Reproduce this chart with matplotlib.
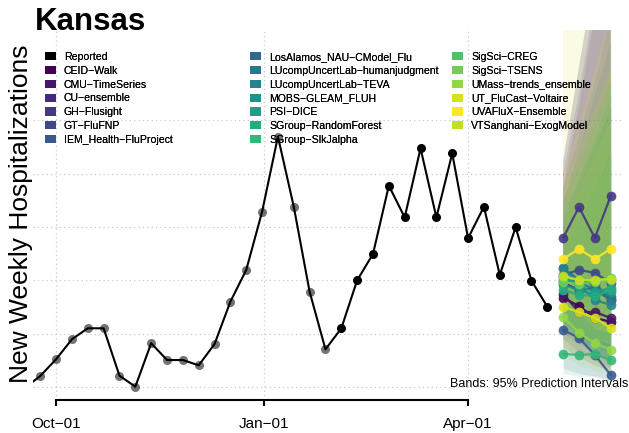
import matplotlib
matplotlib.use("Agg")
import matplotlib.pyplot as plt
import matplotlib.dates as mdates
from matplotlib.patches import Patch
import numpy as np
import pandas as pd

plt.rcParams['font.family'] = ['Liberation Sans', 'DejaVu Sans']

# reported weekly hospitalizations (Kansas), weekly from 2022-09-17
reported = [19.5, 24.1, 30.4, 37.9, 42.0, 42.0, 24.2, 20.1, 36.4, 30.1, 30.1, 28.1,
            36.1, 52.0, 63.9, 85.7, 113.9, 87.6, 55.7, 34.1, 42.0, 60.0, 69.9, 95.5,
            83.6, 109.5, 83.6, 107.6, 75.8, 87.6, 62.0, 79.9, 59.9, 50.1]
report_start = "2022-09-17"
n_gray = 20  # older points shown faded

forecast_dates = ["2023-05-13", "2023-05-20", "2023-05-27", "2023-06-03"]

models = ["CEID-Walk", "CMU-TimeSeries", "CU-ensemble", "GH-Flusight", "GT-FluFNP",
          "IEM_Health-FluProject", "LosAlamos_NAU-CModel_Flu",
          "LUcompUncertLab-humanjudgment", "LUcompUncertLab-TEVA", "MOBS-GLEAM_FLUH",
          "PSI-DICE", "SGroup-RandomForest", "SGroup-SlkJalpha", "SigSci-CREG",
          "SigSci-TSENS", "UMass-trends_ensemble", "UT_FluCast-Voltaire",
          "UVAFluX-Ensemble", "VTSanghani-ExogModel"]

median = [
    [53.4, 50.4, 45.9, 44.4],
    [54.9, 48.1, 48.1, 45.9],
    [59.0, 56.4, 57.1, 52.6],
    [75.9, 87.5, 75.9, 91.6],
    [62.0, 63.9, 62.8, 59.0],
    [41.4, 38.4, 32.0, 24.5],
    [64.6, 60.1, 58.3, 53.8],
    [60.1, 59.4, 56.4, 52.6],
    [64.6, 58.3, 52.6, 50.8],
    [58.3, 56.4, 54.5, 55.6],
    [61.3, 57.9, 55.6, 57.1],
    [56.4, 54.5, 54.1, 56.4],
    [32.4, 32.0, 32.4, 30.1],
    [61.3, 60.1, 59.8, 60.9],
    [59.4, 58.6, 59.4, 60.1],
    [46.3, 40.3, 36.5, 33.9],
    [50.0, 48.1, 45.9, 42.1],
    [68.0, 71.8, 68.0, 71.8],
    [61.6, 60.1, 60.1, 60.5],
]

lower95 = [
    [35, 31, 28, 26], [38, 33, 30, 27], [40, 36, 33, 30], [52, 55, 45, 50],
    [45, 42, 38, 34], [27, 25, 24, 22], [45, 38, 33, 29], [44, 40, 36, 32],
    [46, 38, 32, 28], [42, 37, 33, 30], [44, 38, 34, 31], [42, 38, 35, 33],
    [25, 24, 24, 23], [45, 41, 38, 36], [43, 40, 38, 36], [32, 28, 26, 25],
    [35, 31, 28, 26], [50, 48, 42, 40], [45, 41, 38, 36],
]

upper95 = [
    [100, 130, 165, 200], [95, 125, 160, 195], [105, 140, 175, 210], [105, 140, 175, 210],
    [80, 95, 110, 125], [70, 82, 95, 108], [90, 110, 130, 150], [85, 98, 112, 125],
    [95, 115, 135, 160], [82, 98, 114, 130], [90, 105, 120, 135], [75, 88, 100, 110],
    [70, 82, 95, 105], [85, 100, 115, 130], [90, 105, 120, 135], [80, 95, 108, 120],
    [160, 180, 200, 220], [100, 120, 140, 160], [95, 110, 125, 140],
]

colors = [plt.cm.viridis(v) for v in np.linspace(0, 1, 19)]
colors[17] = "#fde725"
colors[16] = "#d8e219"
colors[18] = "#c2df23"

dates = pd.date_range(report_start, periods=len(reported), freq="7D")
fdates = pd.to_datetime(forecast_dates)

fig = plt.figure(figsize=(6.29, 4.33), dpi=100)
ax = fig.add_axes([33 / 629, 33 / 433, 589 / 629, 370 / 433])

# grid
for gy in [20, 40, 60, 80, 100, 120]:
    ax.axhline(gy, color="#c8c8c8", lw=0.9, ls=(0, (1, 2.5)), zorder=0)
xt = pd.to_datetime(["2022-10-01", "2023-01-01", "2023-04-01"])
for gx in xt:
    ax.axvline(gx, color="#c8c8c8", lw=0.9, ls=(0, (1, 2.5)), zorder=0)

# prediction bands
for i in range(len(models)):
    ax.fill_between(fdates, lower95[i], upper95[i], color=colors[i], alpha=0.12,
                    lw=0, zorder=1)

# reported
ax.plot(dates, reported, color="black", lw=1.5, zorder=3)
ax.plot(dates[:n_gray], reported[:n_gray], "o", color="black", alpha=0.55,
        ms=6.5, mec="none", zorder=4)
ax.plot(dates[n_gray:], reported[n_gray:], "o", color="black", ms=6.5,
        mec="none", zorder=4)

# forecast medians
for i in range(len(models)):
    ax.plot(fdates, median[i], "-o", color=colors[i], lw=1.6, ms=7, mec="none",
            alpha=0.9, zorder=5)

ax.set_xlim(mdates.date2num(pd.Timestamp("2022-09-20 19:00")),
            mdates.date2num(pd.Timestamp("2023-06-08")))
ax.set_ylim(15.1, 153.9)

ax.set_xticks(xt)
ax.set_xticklabels(["Oct\u221201", "Jan\u221201", "Apr\u221201"], fontsize=11)
ax.set_yticks([])
ax.tick_params(axis="x", length=4, width=1.5, pad=8, direction="out")
for s in ["top", "right", "left"]:
    ax.spines[s].set_visible(False)
ax.spines["bottom"].set_linewidth(1.5)
ax.spines["bottom"].set_bounds(mdates.date2num(xt[0]), mdates.date2num(xt[-1]))

# legend, three fixed-width columns
labels = ["Reported"] + models
lcolors = ["black"] + colors
col_x = [45, 250, 452]
rows = [labels[0:7], labels[7:14], labels[14:20]]
crows = [lcolors[0:7], lcolors[7:14], lcolors[14:20]]
for c in range(3):
    handles = [Patch(facecolor=col, edgecolor="none") for col in crows[c]]
    txt = [t.replace("-", "\u2212") for t in rows[c]]
    leg = fig.legend(handles, txt, loc="upper left",
                     bbox_to_anchor=(col_x[c] / 629, 1 - 52 / 433),
                     frameon=False, fontsize=7.6, handlelength=1.0, handleheight=0.8,
                     handletextpad=0.8, labelspacing=0.36, borderpad=0,
                     borderaxespad=0)
    fig.add_artist(leg)

fig.text(35 / 629, 1 - 22 / 433, "Kansas", fontsize=22.5, fontweight="bold",
         ha="left", va="center")
fig.text(21 / 629, 1 - 214 / 433, "New Weekly Hospitalizations", fontsize=19,
         rotation=90, ha="center", va="center")
fig.text(628 / 629, 1 - 384 / 433, "Bands: 95% Prediction Intervals", fontsize=9,
         ha="right", va="center", zorder=10)

fig.savefig("out.png", dpi=100)
